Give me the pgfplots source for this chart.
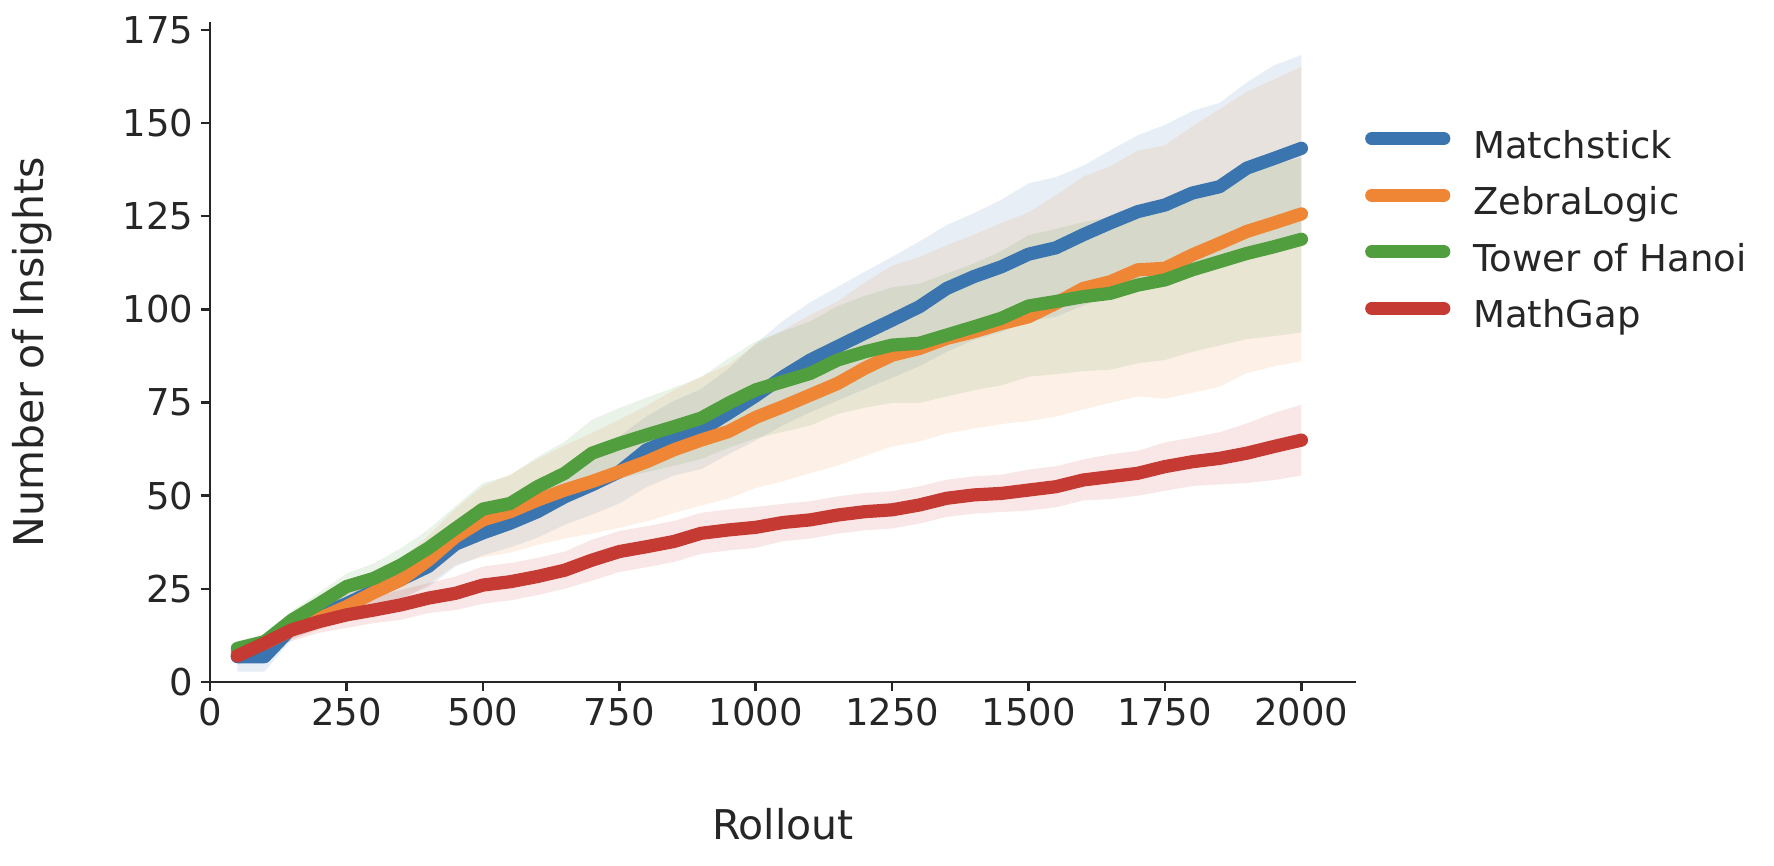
\documentclass[border=0pt]{standalone}
\usepackage{pgfplots}
\pgfplotsset{compat=1.18}
\usepackage{pgfplotstable}
\usepgfplotslibrary{fillbetween}
\usepackage{fontspec}
\setmainfont{DejaVu Sans}
\definecolor{mblue}{HTML}{3B75AF}
\definecolor{morange}{HTML}{EF8636}
\definecolor{mgreen}{HTML}{519E3E}
\definecolor{mred}{HTML}{C53A32}
\definecolor{cdark}{HTML}{262626}

\pgfplotstableread{
x m mh ml z zh zl t th tl g gh gl
50 6.8 3 4 7.9 2 2 9.0 2 2 7.0 2.5 2.5
100 6.8 3 4 10.4 2.5 2.5 10.8 2 2 10.4 2.5 2.5
150 14.5 3 3 14.0 2.5 2.5 16.6 2.5 2.5 14.0 3 3
200 18.0 3.5 3.5 17.0 3 3 21.0 3 3 16.2 3 3
250 21.0 4 4 20.2 3.5 3.5 25.6 3.5 3.5 18.0 3.5 3.5
300 24.5 4.5 4.5 24.0 4.5 4.5 27.8 4 4 19.3 3.5 3.5
350 27.5 5 5 27.4 5.5 5.5 31.4 4.5 4.5 20.7 4 4
400 31.0 5.5 5.5 32.7 6.5 6.5 35.9 5 5 22.5 4 4
450 37.0 6 6 39.0 7.5 7.5 41.2 6 6 23.8 4.5 4.5
500 40.0 6.5 6 43.5 9 10 46.4 7 6 26.0 5 5
550 42.6 7 6.5 45.7 10 11 47.9 7.5 7 26.9 5 5
600 45.7 7.5 7 48.8 11 12 52.4 8 8 28.3 5 5
650 49.7 8.5 7.5 51.5 12 13 56.0 8.5 8.5 30.0 5 5
700 52.9 9 8 53.8 13 14 61.4 9 9 32.7 5.5 5.5
750 56.4 9.5 8.5 56.4 14 15 64.0 9.5 9.5 35.0 5.5 5.5
800 62.3 9 10 59.1 15 16 66.3 10 10 36.3 5.5 5.5
850 65.4 10 10 62.3 16 17 68.5 10.5 10.5 37.7 5.5 5.5
900 67.6 11 10.5 64.9 17 17.5 70.8 11 11 39.9 5.5 5.5
950 72.1 12 11 67.2 18 18 74.8 12 12 40.8 5.5 5.5
1000 76.8 14 12 71.0 19.5 19 78.4 13 13 41.5 5.5 5.5
1050 81.9 15 13 73.9 20.5 20 80.6 13.5 13.5 42.8 5 5
1100 86.4 15.5 14 77.0 21.5 21 82.8 14 14 43.5 5 5
1150 90.0 16 14.5 80.1 22 22 86.4 14.5 14.5 44.8 5 5
1200 93.6 16.5 15 84.2 23 23.5 88.6 15 15 45.7 5 5
1250 97.1 17 15.5 87.7 24 24.5 90.4 15.5 15.5 46.2 5 5
1300 100.7 17.5 16 89.5 24.5 25 90.9 16 16 47.5 5 5
1350 105.6 17 17 92.2 25 25.5 93.1 16.5 16.5 49.3 5 5
1400 108.8 17 17 94.0 26 26 95.3 17 17 50.2 5 5
1450 111.4 18 17.5 96.2 27 27 97.6 18 18 50.6 5 5
1500 114.8 19 18 98.0 28 28 100.9 19 19 51.5 5.5 5.5
1550 116.5 19 18.5 101.6 29 30.4 102.1 19.5 19.5 52.4 5.5 5.5
1600 120.0 18.5 19 105.6 30 32.5 103.4 20 20 54.2 5.5 5.5
1650 123.2 19.5 19.5 107.4 31 32.5 104.3 20.5 20.5 55.1 6 6
1700 126.2 20.5 20 110.6 32 34 106.5 21 21 56.0 6 6
1750 128.0 21.5 20.5 111.0 33 35 107.9 21 21.5 57.8 6.5 6.5
1800 131.2 22 21.5 114.6 34.5 37 110.6 21.5 22 59.1 6.5 6.5
1850 132.9 22.5 22 117.7 36 38.5 112.8 21.5 22.5 60.0 7 7
1900 137.9 23 23 120.9 37.5 38 115.0 21.5 23 61.4 8 8
1950 140.5 25 24 123.2 38.5 38.5 116.8 22 24 63.2 9 9
2000 143.2 25 24.5 125.6 39.5 39.5 118.8 22 25 64.9 9.5 9.5
}\data

\begin{document}
\begin{tikzpicture}
\begin{axis}[
  at={(0,0)}, anchor=south west,
  scale only axis, width=573pt, height=330pt,
  xmin=0, xmax=2100, ymin=0, ymax=177.1,
  axis x line*=bottom, axis y line*=left,
  axis line style={-, line width=1.3pt, color=cdark},
  xtick={0,250,...,2000}, ytick={0,25,...,175},
  tick align=outside, major tick length=4.7pt,
  tick style={line width=1.3pt, color=cdark},
  /pgf/number format/assume math mode=true,
  /pgf/number format/1000 sep={},
  ticklabel style={font=\fontsize{18.5}{22}\selectfont, text=cdark},
  xlabel={Rollout}, ylabel={Number of Insights},
  label style={font=\fontsize{20.5}{24}\selectfont, text=cdark},
  x label style={at={(axis description cs:0.5,-0.215)}, anchor=center},
  y label style={at={(axis description cs:-0.155,0.5)}, anchor=center},
  legend style={at={(axis description cs:1.008,0.8346)}, anchor=north west,
    draw=none, fill=none, inner sep=0pt, outer sep=0pt,
    font=\fontsize{18.5}{22}\selectfont, text=cdark,
    nodes={inner sep=0pt, text height=13.5pt, text depth=4pt},
    row sep=10.8pt,
    /tikz/every odd column/.append style={column sep=11.5pt}},
  legend cell align=left,
  legend image code/.code={\draw[#1, line cap=round] (0pt,5pt) -- (36pt,5pt);},
]
% bands
\addplot[name path=mU, draw=none, forget plot] table[x=x, y expr=\thisrow{m}+\thisrow{mh}] {\data};
\addplot[name path=mL, draw=none, forget plot] table[x=x, y expr=\thisrow{m}-\thisrow{ml}] {\data};
\addplot[fill=mblue, fill opacity=0.12, draw=none, forget plot] fill between[of=mU and mL];
\addplot[name path=zU, draw=none, forget plot] table[x=x, y expr=\thisrow{z}+\thisrow{zh}] {\data};
\addplot[name path=zL, draw=none, forget plot] table[x=x, y expr=\thisrow{z}-\thisrow{zl}] {\data};
\addplot[fill=morange, fill opacity=0.12, draw=none, forget plot] fill between[of=zU and zL];
\addplot[name path=tU, draw=none, forget plot] table[x=x, y expr=\thisrow{t}+\thisrow{th}] {\data};
\addplot[name path=tL, draw=none, forget plot] table[x=x, y expr=\thisrow{t}-\thisrow{tl}] {\data};
\addplot[fill=mgreen, fill opacity=0.12, draw=none, forget plot] fill between[of=tU and tL];
\addplot[name path=gU, draw=none, forget plot] table[x=x, y expr=\thisrow{g}+\thisrow{gh}] {\data};
\addplot[name path=gL, draw=none, forget plot] table[x=x, y expr=\thisrow{g}-\thisrow{gl}] {\data};
\addplot[fill=mred, fill opacity=0.12, draw=none, forget plot] fill between[of=gU and gL];
% lines
\addplot[mblue, line width=6.6pt, line cap=round, line join=round] table[x=x, y=m] {\data};
\addlegendentry{Matchstick}
\addplot[morange, line width=6.6pt, line cap=round, line join=round] table[x=x, y=z] {\data};
\addlegendentry{ZebraLogic}
\addplot[mgreen, line width=6.6pt, line cap=round, line join=round] table[x=x, y=t] {\data};
\addlegendentry{Tower of Hanoi}
\addplot[mred, line width=6.6pt, line cap=round, line join=round] table[x=x, y=g] {\data};
\addlegendentry{MathGap}
\end{axis}
\path (-105pt,-92pt) rectangle (782pt,341pt);
\end{tikzpicture}
\end{document}
